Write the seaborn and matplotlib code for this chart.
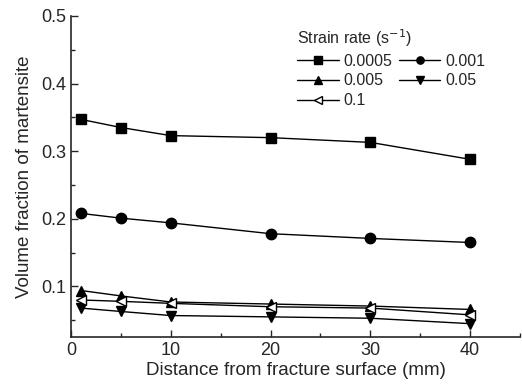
import numpy as np
import pandas as pd
import matplotlib
matplotlib.use("Agg")
import matplotlib.pyplot as plt
import seaborn as sns
from matplotlib.ticker import MultipleLocator

# distance from fracture surface (mm)
distance = [1, 5, 10, 20, 30, 40]

# volume fraction of martensite for each strain rate
vf_00005 = [0.347, 0.335, 0.323, 0.320, 0.313, 0.288]
vf_0001 = [0.208, 0.201, 0.194, 0.178, 0.171, 0.165]
vf_0005 = [0.094, 0.086, 0.077, 0.074, 0.071, 0.066]
vf_005 = [0.068, 0.063, 0.057, 0.055, 0.053, 0.045]
vf_01 = [0.080, 0.078, 0.075, 0.070, 0.068, 0.058]

rates = ["0.0005", "0.001", "0.005", "0.05", "0.1"]
values = [vf_00005, vf_0001, vf_0005, vf_005, vf_01]
markers = ["s", "o", "^", "v", "<"]
fills = ["black", "black", "black", "black", "white"]

sns.set_style("ticks")
plt.rcParams["font.family"] = ["Liberation Sans", "DejaVu Sans"]
plt.rcParams["axes.unicode_minus"] = False

fig = plt.figure(figsize=(5.22, 3.88), dpi=100)
ax = fig.add_axes([0.136, 0.131, 0.86, 0.828])

for rate, vals, mk, fc in zip(rates, values, markers, fills):
    df = pd.DataFrame({"d": distance, "vf": vals})
    sns.lineplot(data=df, x="d", y="vf", ax=ax, color="black", lw=1,
                 marker=mk, markersize=7.5, markerfacecolor=fc,
                 markeredgecolor="black", markeredgewidth=1, label=rate)

ax.set_xlim(0, 45)
ax.set_ylim(0.025, 0.5)
ax.xaxis.set_minor_locator(MultipleLocator(5))
ax.yaxis.set_minor_locator(MultipleLocator(0.05))
ax.set_xticks([0, 10, 20, 30, 40])
ax.set_xticklabels(["0", "10", "20", "30", "40"])
ax.set_yticks([0.1, 0.2, 0.3, 0.4, 0.5])
ax.set_yticklabels(["0.1", "0.2", "0.3", "0.4", "0.5"])
ax.tick_params(which="both", direction="in", labelsize=13, width=1)
ax.tick_params(which="major", length=5)
ax.tick_params(which="minor", length=3)
sns.despine(ax=ax)
for s in ["left", "bottom"]:
    ax.spines[s].set_linewidth(1.2)

ax.set_xlabel("Distance from fracture surface (mm)", fontsize=13.5, labelpad=2)
ax.set_ylabel("Volume fraction of martensite", fontsize=13.5, labelpad=6)

# row-wise legend order: matplotlib fills columns first
handles, labels = ax.get_legend_handles_labels()
order = [0, 2, 4, 1, 3]
leg = ax.legend([handles[i] for i in order], [labels[i] for i in order],
                title="Strain rate (s$^{-1}$)", ncol=2, frameon=False,
                loc="upper left", bbox_to_anchor=(0.49, 0.985), fontsize=11.5,
                title_fontsize=11.5, handlelength=2.6, columnspacing=0.4,
                handletextpad=0.3, labelspacing=0.3, borderaxespad=0,
                markerscale=0.7)
leg._legend_box.align = "left"

fig.savefig("out.png", dpi=100)
